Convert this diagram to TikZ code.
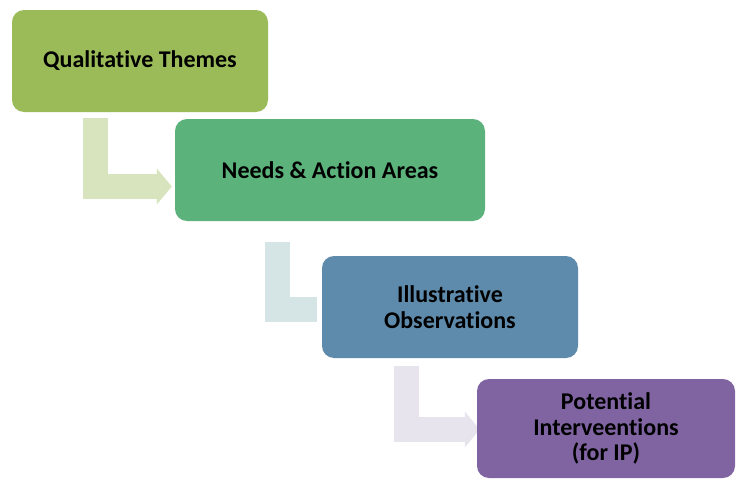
\documentclass[tikz,border=0pt]{standalone}
\usepackage{fontspec}
\setmainfont[Ligatures=NoCommon]{Carlito}
\usetikzlibrary{arrows.meta,calc,backgrounds}

\definecolor{themegreen}{HTML}{9BBB59}
\definecolor{needsgreen}{HTML}{5CB27B}
\definecolor{obsblue}{HTML}{5E8BAB}
\definecolor{intpurple}{HTML}{8064A2}
\definecolor{tintgreen}{HTML}{D7E4BD}
\definecolor{tintblue}{HTML}{D5E4E4}
\definecolor{tintpurple}{HTML}{E7E4EE}

\tikzset{
  stagebox/.style={rectangle, rounded corners=12pt, draw=none, align=center,
    font=\fontsize{24}{25.5}\selectfont\bfseries, text=black},
  bentarrow/.style={line width=25pt, line join=miter, line cap=butt, draw=#1},
  bighead/.style={-{Triangle[length=15pt,width=36pt,line width=0pt,fill=#1]}}
}

\begin{document}
\begin{tikzpicture}[x=1pt,y=-1pt]
\useasboundingbox (0,0) rectangle (740,479);

% stages
\node[stagebox, fill=themegreen, minimum width=256pt, minimum height=102pt] (b1) at (140,61) {Qualitative Themes};
\node[stagebox, fill=needsgreen, minimum width=310pt, minimum height=102pt] (b2) at (330,170) {Needs \& Action Areas};
\node[stagebox, fill=obsblue, minimum width=256pt, minimum height=102pt] (b3) at (450,307) {Illustrative\\Observations};
\node[stagebox, fill=intpurple, minimum width=258pt, minimum height=99pt] (b4) at (606,428.5) {Potential\\Interveentions\\(for IP)};

% bent connectors, kept behind the stages
\coordinate (a1s) at ($(b1.south west)+(83.5,6)$);
\coordinate (a1e) at ($(b2.west)+(-3,16.5)$);
\coordinate (a2s) at ($(b2.south west)+(102.5,21)$);
\coordinate (a2e) at ($(b3.west)+(-5,2.5)$);
\coordinate (a3s) at ($(b3.south west)+(84.5,8)$);
\coordinate (a3e) at ($(b4.west)+(3,1)$);
\begin{scope}[on background layer]
\draw[bentarrow=tintgreen, bighead=tintgreen] (a1s) |- (a1e);
\draw[bentarrow=tintblue] (a2s) |- (a2e);
\draw[bentarrow=tintpurple, bighead=tintpurple] (a3s) |- (a3e);
\end{scope}
\end{tikzpicture}
\end{document}
